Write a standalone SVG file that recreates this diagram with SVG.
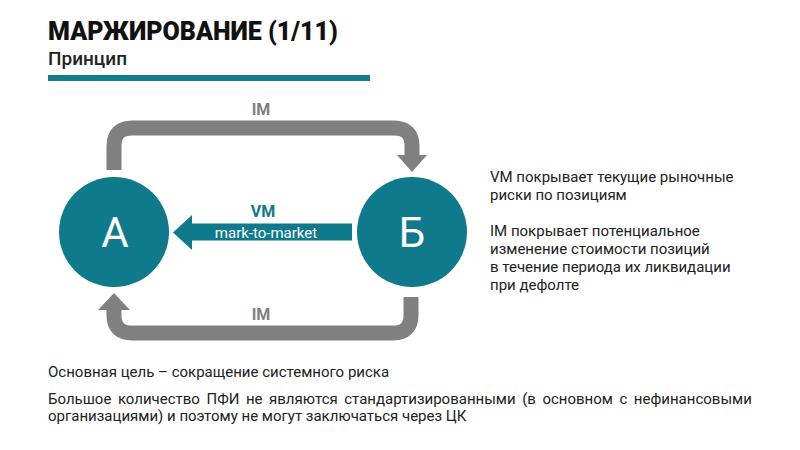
<svg xmlns="http://www.w3.org/2000/svg" width="800" height="450" viewBox="0 0 800 450">
<style>
text{font-family:Roboto,"Liberation Sans",sans-serif}
.title{font-size:25px;font-weight:900;fill:#111}
.sub{font-size:19px;font-weight:500;fill:#222}
.body{font-size:15px;fill:#222}
.im{font-size:16px;font-weight:700;fill:#7f7f7f}
.node{fill:#0e7a8b}
.nlabel{font-size:42px;fill:#fff;text-anchor:middle}
.gray{fill:none;stroke:#808080;stroke-width:15}
.ghead{fill:#808080}
</style>
<rect width="800" height="450" fill="#fff"/>
<g id="header">
<text class="title" x="48" y="40">МАРЖИРОВАНИЕ (1/11)</text>
<text class="sub" x="48" y="65">Принцип</text>
<rect x="48" y="75" width="322" height="6" fill="#137d8c"/>
</g>
<g id="connectors">
<path class="gray" d="M114,170 V146 Q114,128 132,128 H394 Q412,128 412,146 V156"/>
<polygon class="ghead" points="397,155 427,155 412,172"/>
<path class="gray" d="M411,297 V315 Q411,333 393,333 H132 Q114,333 114,315 V309"/>
<polygon class="ghead" points="98,310 130,310 114,293"/>
<rect x="191" y="223.5" width="161" height="17" fill="#0e7a8b"/>
<polygon points="192,215 192,250 173,232.5" fill="#0e7a8b"/>
<text class="im" x="261" y="115" text-anchor="middle">IM</text>
<text class="im" x="261" y="320" text-anchor="middle">IM</text>
<text x="263" y="217" text-anchor="middle" style="font-size:16px;font-weight:700;fill:#0e7a8b">VM</text>
<text x="266" y="237.5" text-anchor="middle" style="font-size:15px;fill:#fff">mark-to-market</text>
</g>
<g id="nodeA">
<circle class="node" cx="114" cy="232" r="55"/>
<text class="nlabel" x="115" y="247">А</text>
</g>
<g id="nodeB">
<circle class="node" cx="412" cy="232" r="55"/>
<text class="nlabel" x="412" y="247">Б</text>
</g>
<g id="notes">
<text class="body" x="490" y="182">VM покрывает текущие рыночные</text>
<text class="body" x="490" y="200">риски по позициям</text>
<text class="body" x="490" y="236">IM покрывает потенциальное</text>
<text class="body" x="490" y="254">изменение стоимости позиций</text>
<text class="body" x="490" y="272">в течение периода их ликвидации</text>
<text class="body" x="490" y="290">при дефолте</text>
<text class="body" x="48" y="377">Основная цель – сокращение системного риска</text>
<text class="body" x="48" y="404" word-spacing="2.8">Большое количество ПФИ не являются стандартизированными (в основном с нефинансовыми</text>
<text class="body" x="48" y="421">организациями) и поэтому не могут заключаться через ЦК</text>
</g>
</svg>
